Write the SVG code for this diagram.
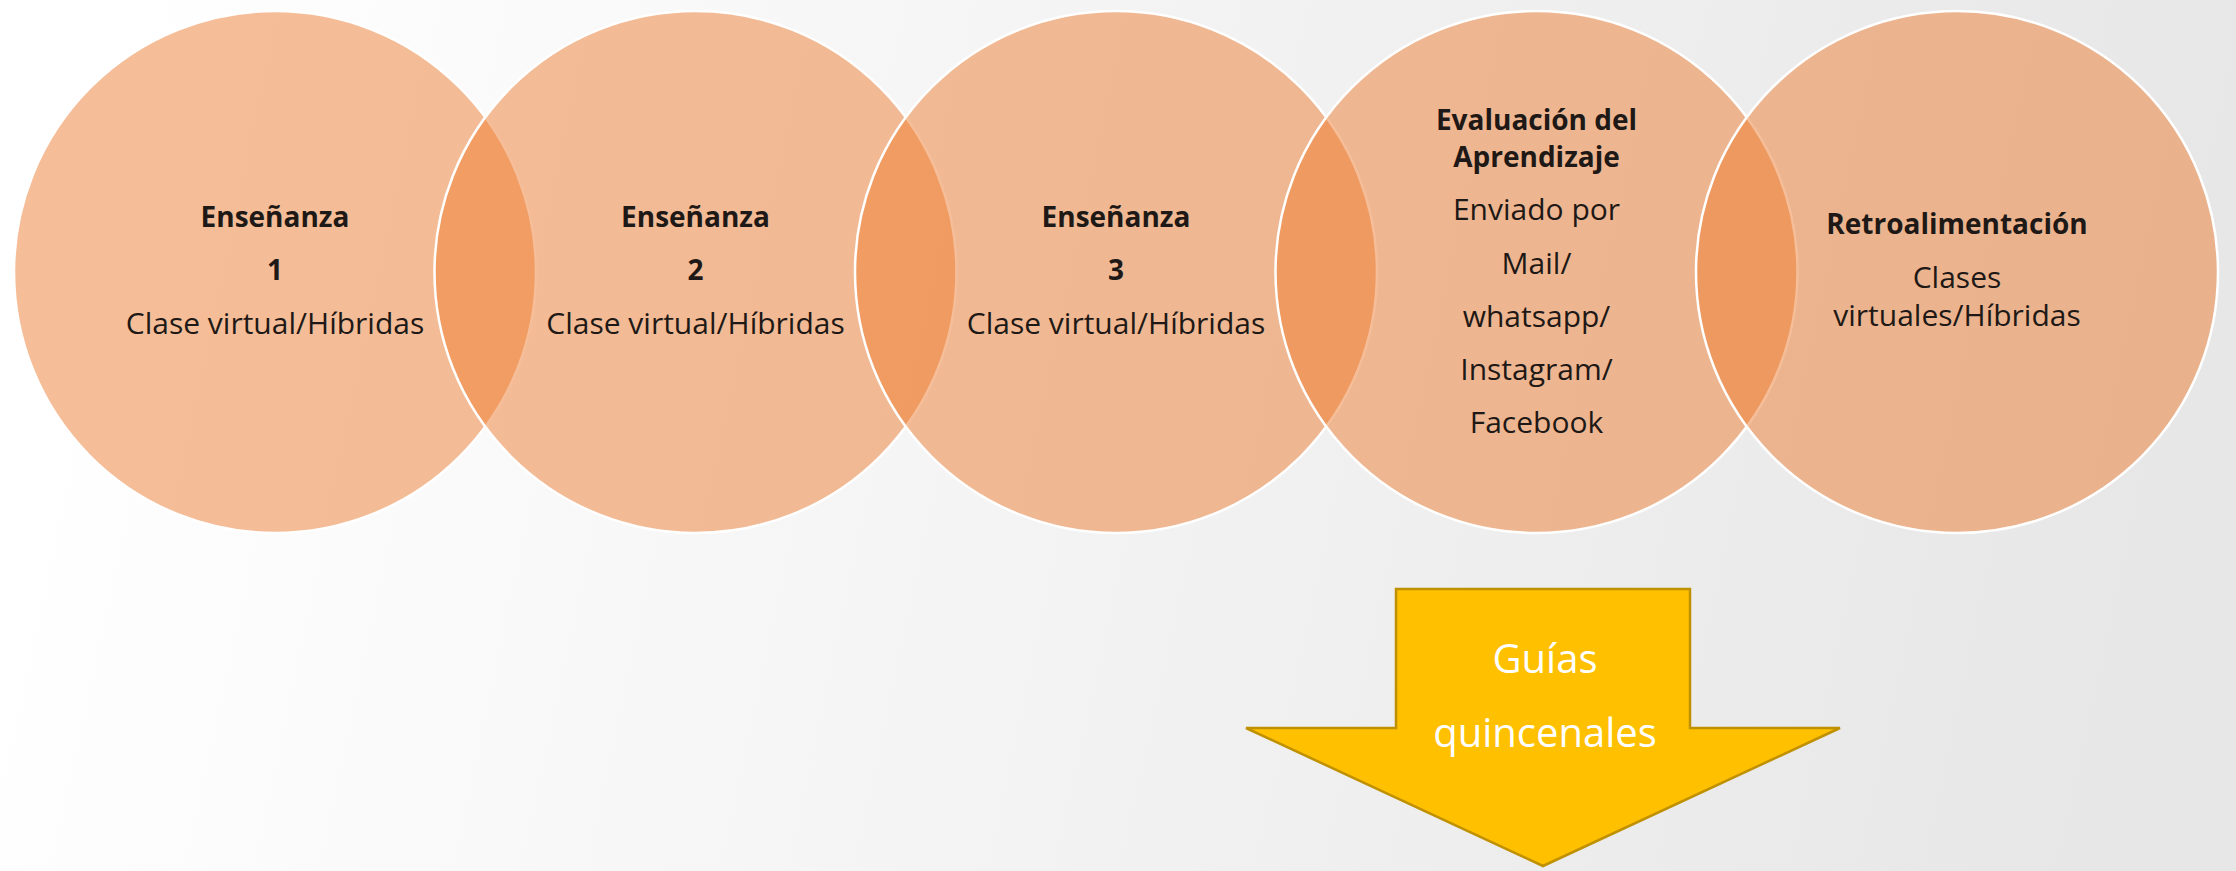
<svg xmlns="http://www.w3.org/2000/svg" width="2236" height="871" viewBox="0 0 2236 871">
  <defs>
    <linearGradient id="bg" x1="0.05" y1="0" x2="1" y2="0.08">
      <stop offset="0" stop-color="#FFFFFF"/>
      <stop offset="1" stop-color="#E7E7E7"/>
    </linearGradient>
    <style>
      .circ { fill: #ED7D31; fill-opacity: 0.5; stroke: #FFFFFF; stroke-width: 2.5; }
      .t { font-family: "Open Sans", "Liberation Sans", sans-serif; fill: #1E1916; text-anchor: middle; }
      .b { font-size: 28px; font-weight: bold; }
      .r { font-size: 30px; }
      .arrow { fill: #FFC000; stroke: #BF9000; stroke-width: 2.5; }
      .at { font-family: "Open Sans", "Liberation Sans", sans-serif; font-weight: normal; font-size: 40px; fill: #FFFFFF; text-anchor: middle; }
    </style>
  </defs>
  <rect x="0" y="0" width="2236" height="871" fill="url(#bg)"/>

  <g id="connectors"/>

  <g id="node-ensenanza-1">
    <circle class="circ" cx="275" cy="272" r="261"/>
    <text class="t b" x="275" y="227">Enseñanza</text>
    <text class="t b" x="275" y="280">1</text>
    <text class="t r" x="275" y="334">Clase virtual/Híbridas</text>
  </g>

  <g id="node-ensenanza-2">
    <circle class="circ" cx="695.5" cy="272" r="261"/>
    <text class="t b" x="695.5" y="227">Enseñanza</text>
    <text class="t b" x="695.5" y="280">2</text>
    <text class="t r" x="695.5" y="334">Clase virtual/Híbridas</text>
  </g>

  <g id="node-ensenanza-3">
    <circle class="circ" cx="1116" cy="272" r="261"/>
    <text class="t b" x="1116" y="227">Enseñanza</text>
    <text class="t b" x="1116" y="280">3</text>
    <text class="t r" x="1116" y="334">Clase virtual/Híbridas</text>
  </g>

  <g id="node-evaluacion">
    <circle class="circ" cx="1536.5" cy="272" r="261"/>
    <text class="t b" x="1536.5" y="130">Evaluación del</text>
    <text class="t b" x="1536.5" y="167">Aprendizaje</text>
    <text class="t r" x="1536.5" y="220">Enviado por</text>
    <text class="t r" x="1536.5" y="274">Mail/</text>
    <text class="t r" x="1536.5" y="327">whatsapp/</text>
    <text class="t r" x="1536.5" y="380">Instagram/</text>
    <text class="t r" x="1536.5" y="433">Facebook</text>
  </g>

  <g id="node-retroalimentacion">
    <circle class="circ" cx="1957" cy="272" r="261"/>
    <text class="t b" x="1957" y="234">Retroalimentación</text>
    <text class="t r" x="1957" y="288">Clases</text>
    <text class="t r" x="1957" y="326">virtuales/Híbridas</text>
  </g>

  <g id="node-guias">
    <polygon class="arrow" points="1396,589 1690,589 1690,728 1840,728 1543,866 1246,728 1396,728"/>
    <text class="at" x="1545" y="673">Guías</text>
    <text class="at" x="1545" y="747">quincenales</text>
  </g>
</svg>
